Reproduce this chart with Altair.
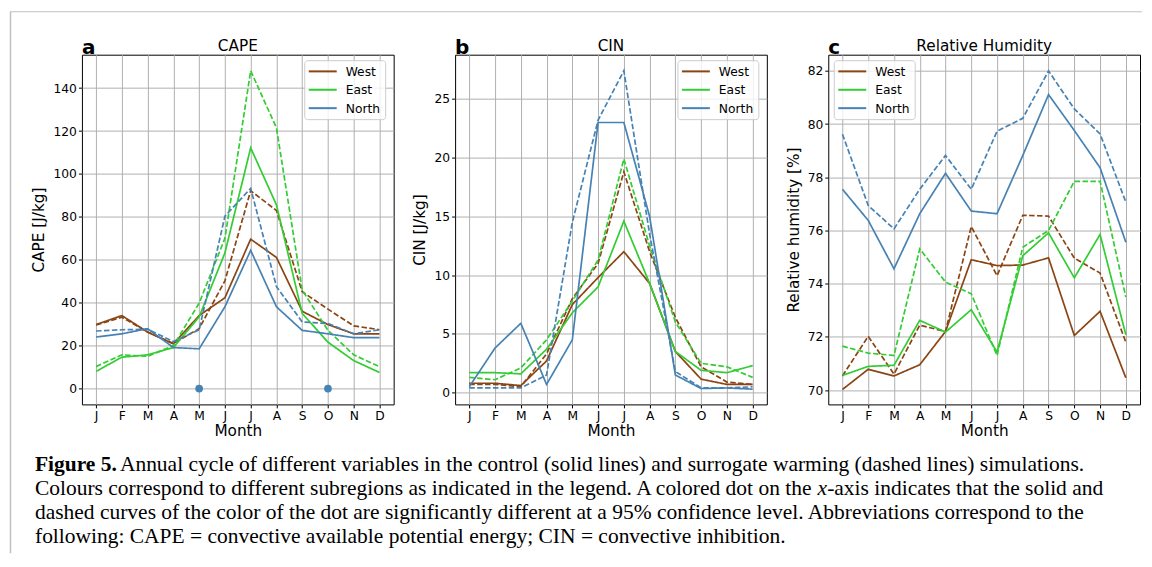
import altair as alt
import pandas as pd

months = ["J", "F", "M", "A", "M", "J", "J", "A", "S", "O", "N", "D"]
regions = ["West", "East", "North"]
region_colors = ["#8B4513", "#32CD32", "#4682B4"]
runs = ["control", "warming"]

# CAPE [J/kg]
cape_west_control = [29.8, 34.0, 26.3, 20.8, 34.0, 42.3, 69.6, 61.1, 36.0, 29.8, 25.5, 25.5]
cape_west_warming = [29.6, 33.2, 26.3, 21.0, 27.9, 50.2, 92.2, 83.0, 45.1, 37.0, 29.2, 27.4]
cape_east_control = [8.0, 14.6, 15.7, 19.1, 33.4, 63.2, 112.2, 85.6, 35.0, 21.6, 13.0, 7.5]
cape_east_warming = [10.2, 15.7, 15.0, 20.0, 39.8, 70.0, 148.1, 121.5, 45.9, 27.1, 15.7, 10.2]
cape_north_control = [24.0, 25.5, 27.9, 19.1, 18.5, 38.1, 64.4, 38.1, 27.1, 25.5, 23.7, 23.7]
cape_north_warming = [26.8, 27.4, 27.6, 21.9, 27.4, 80.3, 93.3, 47.5, 31.0, 30.3, 25.5, 27.4]
cape_significant_north_months = [4, 9]  # May, October

# CIN [J/kg]
cin_west_control = [0.8, 0.8, 0.6, 2.7, 7.5, 9.8, 12.0, 9.3, 3.5, 1.15, 0.7, 0.7]
cin_west_warming = [0.7, 0.7, 0.5, 3.3, 8.0, 11.0, 18.8, 12.0, 6.4, 2.2, 0.9, 0.7]
cin_east_control = [1.7, 1.7, 1.6, 3.7, 6.8, 9.0, 14.6, 9.3, 3.5, 1.9, 1.7, 2.3]
cin_east_warming = [1.3, 1.1, 2.1, 4.5, 7.8, 11.3, 19.9, 12.5, 6.0, 2.5, 2.2, 1.3]
cin_north_control = [0.5, 3.8, 5.9, 0.7, 4.5, 23.0, 23.0, 15.0, 1.5, 0.35, 0.4, 0.3]
cin_north_warming = [0.4, 0.4, 0.4, 1.5, 14.5, 23.2, 27.4, 13.5, 1.8, 0.4, 0.4, 0.5]

# Relative humidity [%]
rh_west_control = [70.02, 70.78, 70.53, 70.95, 72.2, 74.9, 74.68, 74.7, 74.97, 72.05, 72.96, 70.46]
rh_west_warming = [70.53, 72.02, 70.6, 72.44, 72.2, 76.15, 74.3, 76.57, 76.54, 74.96, 74.4, 71.8]
rh_east_control = [70.55, 70.89, 70.93, 72.62, 72.18, 73.02, 71.43, 75.05, 75.91, 74.22, 75.85, 72.08]
rh_east_warming = [71.65, 71.39, 71.3, 75.31, 74.06, 73.62, 71.3, 75.37, 76.0, 77.85, 77.85, 73.5]
rh_north_control = [77.55, 76.38, 74.56, 76.63, 78.15, 76.73, 76.63, 78.82, 81.11, 79.76, 78.36, 75.56]
rh_north_warming = [79.62, 76.94, 76.06, 77.55, 78.82, 77.55, 79.73, 80.22, 82.0, 80.57, 79.63, 77.07]

caption_bold = "Figure 5."
caption_line1 = "Annual cycle of different variables in the control (solid lines) and surrogate warming (dashed lines) simulations."
caption_line2a = "Colours correspond to different subregions as indicated in the legend. A colored dot on the "
caption_line2x = "x"
caption_line2b = "-axis indicates that the solid and"
caption_line3 = "dashed curves of the color of the dot are significantly different at a 95% confidence level. Abbreviations correspond to the"
caption_line4 = "following: CAPE = convective available potential energy; CIN = convective inhibition."


def build_df(series):
    rows = []
    for (reg, run), vals in series.items():
        for i, v in enumerate(vals):
            rows.append({"m": i, "value": v, "region": reg, "run": run})
    return pd.DataFrame(rows)


cape_df = build_df({
    ("West", "control"): cape_west_control, ("West", "warming"): cape_west_warming,
    ("East", "control"): cape_east_control, ("East", "warming"): cape_east_warming,
    ("North", "control"): cape_north_control, ("North", "warming"): cape_north_warming,
})
cin_df = build_df({
    ("West", "control"): cin_west_control, ("West", "warming"): cin_west_warming,
    ("East", "control"): cin_east_control, ("East", "warming"): cin_east_warming,
    ("North", "control"): cin_north_control, ("North", "warming"): cin_north_warming,
})
rh_df = build_df({
    ("West", "control"): rh_west_control, ("West", "warming"): rh_west_warming,
    ("East", "control"): rh_east_control, ("East", "warming"): rh_east_warming,
    ("North", "control"): rh_north_control, ("North", "warming"): rh_north_warming,
})

W, H = 312, 350
label_expr = "[" + ",".join("'%s'" % m for m in months) + "][datum.value]"
FONT = "DejaVu Sans"
color_scale = alt.Scale(domain=regions, range=region_colors)


def one(text):
    return pd.DataFrame({"t": [text]})


def legend_layers(box_x0):
    box = alt.Chart(one("")).mark_rect(fill="white", fillOpacity=0.8, stroke="#cccccc",
                                       strokeWidth=1, cornerRadius=3).encode(
        x=alt.value(box_x0), x2=alt.value(box_x0 + 81), y=alt.value(6), y2=alt.value(65))
    layers = [box]
    row_y = [16.7, 35.1, 53.5]
    for i, reg in enumerate(regions):
        d = pd.DataFrame({"region": [reg]})
        layers.append(alt.Chart(d).mark_rule(strokeWidth=2).encode(
            x=alt.value(box_x0 + 4), x2=alt.value(box_x0 + 32), y=alt.value(row_y[i]),
            color=alt.Color("region:N", scale=color_scale, legend=None)))
        layers.append(alt.Chart(d).mark_text(font=FONT, fontSize=12.3, align="left",
                                             baseline="middle", color="black").encode(
            x=alt.value(box_x0 + 41), y=alt.value(row_y[i] + 0.5), text="region:N"))
    return layers


def panel(df, ytitle, ydomain, yvalues, title, letter, legend_x0, extra=(), extra_front=()):
    x = alt.X("m:Q", scale=alt.Scale(domain=[-0.55, 11.55], nice=False, zero=False),
              axis=alt.Axis(values=list(range(12)), labelExpr=label_expr, title="Month",
                            labelOverlap=False, labelFlush=False))
    y = alt.Y("value:Q", scale=alt.Scale(domain=ydomain, nice=False, zero=False),
              axis=alt.Axis(values=yvalues, title=ytitle, labelOverlap=False))
    lines = alt.Chart(df).mark_line(strokeWidth=1.7).encode(
        x=x, y=y,
        color=alt.Color("region:N", scale=color_scale, legend=None),
        strokeDash=alt.StrokeDash("run:N", scale=alt.Scale(domain=runs, range=[[1, 0], [5.5, 2.4]]),
                                  legend=None),
    )
    layers = [lines]
    for e in extra:
        layers.append(e(x, y))
    layers += legend_layers(legend_x0)
    ttl = alt.Chart(one(title)).mark_text(font=FONT, fontSize=15.3, align="center",
                                          baseline="alphabetic", color="black").encode(
        x=alt.value(W / 2), y=alt.value(-4), text="t:N")
    let = alt.Chart(one(letter)).mark_text(font=FONT, fontSize=20, fontWeight="bold", align="left",
                                           baseline="alphabetic", color="black").encode(
        x=alt.value(0), y=alt.value(-1), text="t:N")
    layers += [ttl, let] + list(extra_front)
    return alt.layer(*layers).properties(width=W, height=H)


def dots(x, y):
    return alt.Chart(pd.DataFrame({"m": cape_significant_north_months,
                                   "value": [0] * len(cape_significant_north_months)})).mark_circle(
        size=60, color="#4682B4", opacity=1).encode(x=x, y=y)


# frame of the figure box (relative to panel a's plot origin)
frame_v = alt.Chart(one("")).mark_rule(color="#c0c0c0", strokeWidth=1.5).encode(
    x=alt.value(-71.5), y=alt.value(-43), y2=alt.value(499))
frame_h = alt.Chart(one("")).mark_rule(color="#c0c0c0", strokeWidth=1.2).encode(
    x=alt.value(-72), x2=alt.value(1061), y=alt.value(-43))

# caption text widths (Times metrics, 1/1000 em) to place the italic x
times_w = {" ": 250, ".": 250, ",": 250, "A": 722, "C": 667}
for ch, w in zip("abcdefghijklmnopqrstuvwxyz",
                 [444, 500, 444, 500, 444, 333, 500, 500, 278, 278, 500, 278, 778, 500, 500, 500, 500,
                  333, 389, 278, 500, 500, 722, 500, 500, 444]):
    times_w[ch] = w

CAP_FONT = "Liberation Serif"
CAP_SIZE = 21.5
cap_x = -47
cap_y = [416.7, 440.5, 464.5, 488.3]
w2a = sum(times_w.get(c, 500) for c in caption_line2a) * CAP_SIZE / 1000.0 - 2.5
w2x = 444 * CAP_SIZE / 1000.0


def cap_text(text, xpos, ypos, weight="normal", style="normal"):
    return alt.Chart(one(text)).mark_text(font=CAP_FONT, fontSize=CAP_SIZE, fontWeight=weight,
                                          fontStyle=style, align="left", baseline="alphabetic",
                                          color="black").encode(
        x=alt.value(xpos), y=alt.value(ypos), text="t:N")


caption_layers = [
    cap_text(caption_bold, cap_x, cap_y[0], weight="bold"),
    cap_text(caption_line1, 38, cap_y[0]),
    cap_text(caption_line2a, cap_x, cap_y[1]),
    cap_text(caption_line2x, cap_x + w2a, cap_y[1], style="italic"),
    cap_text(caption_line2b, cap_x + w2a + w2x, cap_y[1]),
    cap_text(caption_line3, cap_x, cap_y[2]),
    cap_text(caption_line4, cap_x, cap_y[3]),
]

pa = panel(cape_df, "CAPE [J/kg]", [-7.4, 155.6], [0, 20, 40, 60, 80, 100, 120, 140], "CAPE", "a",
           223, extra=[dots], extra_front=[frame_v, frame_h] + caption_layers)
pb = panel(cin_df, "CIN [J/kg]", [-1.0, 28.77], [0, 5, 10, 15, 20, 25], "CIN", "b", 223)
pc = panel(rh_df, "Relative humidity [%]", [69.46, 82.61], [70, 72, 74, 76, 78, 80, 82],
           "Relative Humidity", "c", 6)

chart = alt.hconcat(pa, pb, pc, spacing=61.5, bounds="flush").properties(
    padding={"top": 1.5, "left": 0, "right": 0, "bottom": 0}
).configure_view(
    stroke="black", strokeWidth=1
).configure_axis(
    gridColor="#b0b0b0", gridWidth=1, gridOpacity=1, domain=False, tickColor="black",
    tickSize=3.5, tickWidth=1, labelFont=FONT, labelFontSize=12.3, labelColor="black",
    titleFont=FONT, titleFontSize=15.3, titleFontWeight="normal", titleColor="black",
    labelPadding=2,
).configure_axisX(titlePadding=1).configure_axisY(titlePadding=6)

chart.save("out.html", embed_options={"renderer": "svg", "actions": False})
